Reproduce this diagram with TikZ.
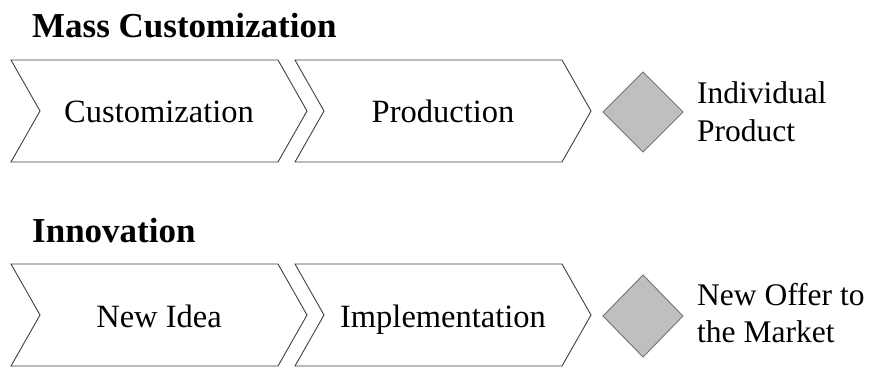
\documentclass[tikz,border=0pt]{standalone}
\usepackage{fontspec}
\setmainfont{Liberation Serif}
\begin{document}
\begin{tikzpicture}[x=1pt,y=-1pt,
  chev/.style={draw=black!75,line width=0.9pt,fill=white,line join=miter},
  diam/.style={draw=black!55,line width=0.9pt,fill=black!25},
  title/.style={font=\fontsize{35}{40}\selectfont\bfseries,anchor=base west,inner sep=0pt},
  steptext/.style={font=\fontsize{32.5}{38}\selectfont,anchor=base,inner sep=0pt},
  lbl/.style={font=\fontsize{31.5}{38}\selectfont,anchor=base west,inner sep=0pt}]
\useasboundingbox (0,0) rectangle (869,367);
% Row 1
\node[title] (t1) at (32,37) {Mass Customization};
\draw[chev] (11,60) -- (278,60) -- (307,111) -- (278,162) -- (11,162) -- (40,111) -- cycle;
\draw[chev] (295,60) -- (562,60) -- (591,111) -- (562,162) -- (295,162) -- (324,111) -- cycle;
\node[steptext] (c1) at (159,122) {Customization};
\node[steptext] (c2) at (443,122) {Production};
\draw[diam] (643,72) -- (683,112) -- (643,152) -- (603,112) -- cycle;
\node[lbl] (r1a) at (697,103) {Individual};
\node[lbl] (r1b) at (697,141) {Product};
% Row 2
\node[title] (t2) at (32,242) {Innovation};
\draw[chev] (11,264) -- (278,264) -- (307,315) -- (278,366) -- (11,366) -- (40,315) -- cycle;
\draw[chev] (295,264) -- (562,264) -- (591,315) -- (562,366) -- (295,366) -- (324,315) -- cycle;
\node[steptext] (n1) at (159,327) {New Idea};
\node[steptext] (n2) at (443,327) {Implementation};
\draw[diam] (643,275) -- (683,316) -- (643,357) -- (603,316) -- cycle;
\node[lbl] (r2a) at (697,305) {New Offer to};
\node[lbl] (r2b) at (697,342) {the Market};
\end{tikzpicture}
\end{document}
